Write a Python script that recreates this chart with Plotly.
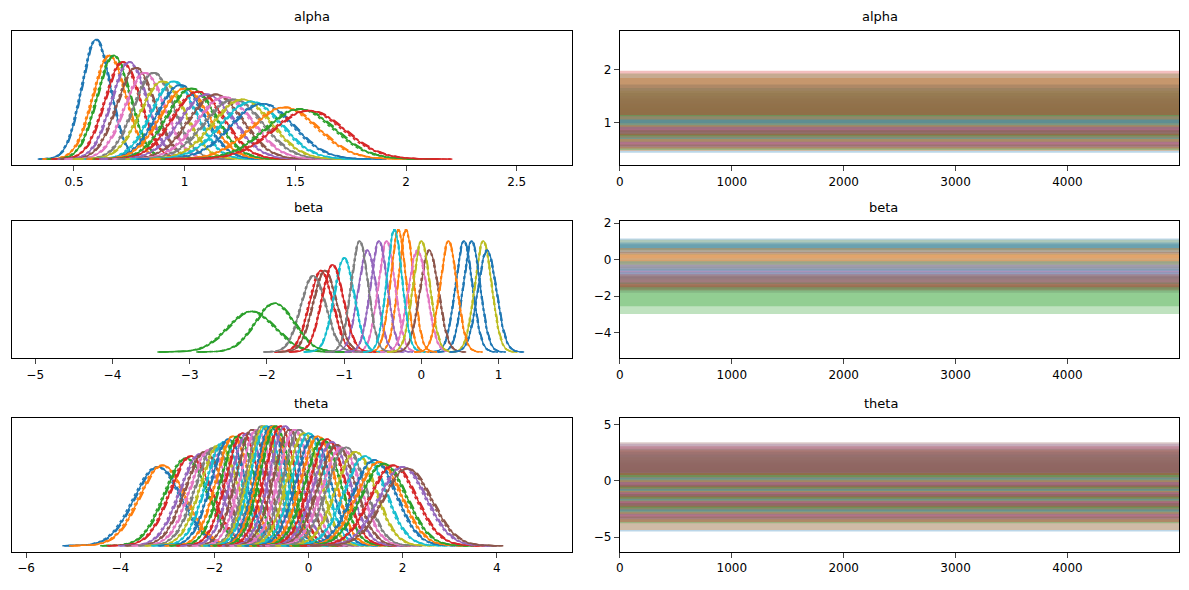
import numpy as np
import plotly.graph_objects as go

TAB10 = ["#1f77b4", "#ff7f0e", "#2ca02c", "#d62728", "#9467bd",
         "#8c564b", "#e377c2", "#7f7f7f", "#bcbd22", "#17becf"]

# posterior summaries (per variable: mean, sd)
alpha_mean = [0.60, 0.66, 0.68, 0.72, 0.75, 0.78, 0.82, 0.86, 0.90, 0.95, 0.98, 1.00,
              1.03, 1.06, 1.10, 1.14, 1.18, 1.22, 1.26, 1.30, 1.35, 1.45, 1.52, 1.56]
alpha_sd = [0.065, 0.075, 0.075, 0.08, 0.08, 0.085, 0.09, 0.09, 0.10, 0.10, 0.105, 0.11,
            0.11, 0.115, 0.12, 0.12, 0.125, 0.13, 0.13, 0.135, 0.14, 0.15, 0.155, 0.16]
beta_mean = [0.55, -0.2, -2.2, -1.3, -0.7, -1.25, -0.45, -1.4, 0.8, -1.0, 0.65, -0.3,
             -1.9, -1.15, -0.55, 0.1, -0.05, -0.8, 0.0, -0.35, 0.85, 0.35]
beta_sd = [0.11, 0.10, 0.30, 0.15, 0.12, 0.15, 0.11, 0.16, 0.11, 0.13, 0.11, 0.10,
           0.25, 0.14, 0.11, 0.12, 0.12, 0.11, 0.11, 0.10, 0.12, 0.11]
theta_mean = [-3.2, -3.1, -2.6, -2.5, -2.3, -2.2, -2.1, -2.0, -1.9, -1.8, -1.7, -1.6,
              -1.5, -1.4, -1.3, -1.2, -1.1, -1.0, -0.95, -0.9, -0.8, -0.75, -0.7, -0.6,
              -0.5, -0.4, -0.3, -0.2, -0.1, 0.0, 0.1, 0.2, 0.3, 0.4, 0.5, 0.6, 0.7, 0.8,
              1.0, 1.2, 1.4, 1.5, 1.6, 1.8, 2.0, 2.1]
theta_sd = [0.50, 0.49, 0.45, 0.44, 0.43, 0.42, 0.41, 0.40, 0.39, 0.38, 0.37, 0.36,
            0.36, 0.35, 0.35, 0.34, 0.34, 0.33, 0.33, 0.33, 0.33, 0.33, 0.33, 0.33,
            0.33, 0.34, 0.34, 0.34, 0.35, 0.35, 0.36, 0.36, 0.37, 0.37, 0.38, 0.39, 0.40,
            0.40, 0.42, 0.44, 0.46, 0.47, 0.48, 0.49, 0.50, 0.51]
chain_shift = [0.0, 0.06, -0.06, 0.03]          # per-chain offset, in sd units
chain_dash = ["solid", "dash", "dot", "dashdot"]
n_draws = 5000
x_ticks = [0, 1000, 2000, 3000, 4000]

panels = [
    ("alpha", alpha_mean, alpha_sd, [0.22, 2.75], [0.2, 2.72], [1, 2], [0.5, 1.0, 1.5, 2.0, 2.5]),
    ("beta", beta_mean, beta_sd, [-5.3, 1.95], [-5.4, 2.1], [-4, -2, 0, 2], [-5, -4, -3, -2, -1, 0, 1, 2]),
    ("theta", theta_mean, theta_sd, [-6.3, 5.6], [-6.3, 5.6], [-5, 0, 5], [-6, -4, -2, 0, 2, 4]),
]
rows_dom = [[0.740, 0.969], [0.410, 0.644], [0.079, 0.308]]

fig = go.Figure()
layout = {}
annotations = []
for i, (name, means, sds, trange, yr, yt, kt) in enumerate(panels):
    ka, ta = 2 * i + 1, 2 * i + 2
    peak = 0
    for j, (m, s) in enumerate(zip(means, sds)):
        col = TAB10[j % 10]
        for c, (sh, dash) in enumerate(zip(chain_shift, chain_dash)):
            mu = m + sh * s
            x = np.linspace(mu - 4 * s, mu + 4 * s, 120)
            y = np.exp(-0.5 * ((x - mu) / s) ** 2) / (s * np.sqrt(2 * np.pi))
            peak = max(peak, y.max())
            fig.add_trace(go.Scatter(x=x, y=y, mode="lines", showlegend=False,
                                     line=dict(color=col, width=1.4, dash=dash),
                                     xaxis=f"x{ka}", yaxis=f"y{ka}", hoverinfo="skip"))
        lo, hi = m - 2.6 * s, m + 2.6 * s
        fig.add_trace(go.Scatter(x=[0, n_draws - 1, n_draws - 1, 0, 0], y=[lo, lo, hi, hi, lo],
                                 fill="toself", fillcolor=col, opacity=0.3, mode="none",
                                 showlegend=False, xaxis=f"x{ta}", yaxis=f"y{ta}", hoverinfo="skip"))
    ax = dict(showline=True, mirror=True, linecolor="black", ticks="outside",
              showgrid=False, zeroline=False, tickfont=dict(size=12, color="black"))
    layout[f"xaxis{ka}"] = dict(ax, domain=[0.0, 0.4726], anchor=f"y{ka}",
                                range=trange, tickvals=kt)
    layout[f"yaxis{ka}"] = dict(ax, domain=rows_dom[i], anchor=f"x{ka}",
                                range=[-0.05 * peak, 1.07 * peak], showticklabels=False, ticks="")
    layout[f"xaxis{ta}"] = dict(ax, domain=[0.513, 0.985], anchor=f"y{ta}",
                                range=[0, n_draws - 1], tickvals=x_ticks)
    layout[f"yaxis{ta}"] = dict(ax, domain=rows_dom[i], anchor=f"x{ta}", range=yr, tickvals=yt)
    for xc in (0.2363, 0.749):
        annotations.append(dict(text=name, x=xc, y=rows_dom[i][1] + 0.008, xref="paper",
                                yref="paper", showarrow=False, yanchor="bottom",
                                font=dict(size=13, color="black")))

fig.update_layout(**layout, annotations=annotations, width=1189, height=590,
                  margin=dict(l=0, r=0, t=0, b=0), plot_bgcolor="white",
                  paper_bgcolor="white", font=dict(family="DejaVu Sans"))
fig.write_html("out.html")
